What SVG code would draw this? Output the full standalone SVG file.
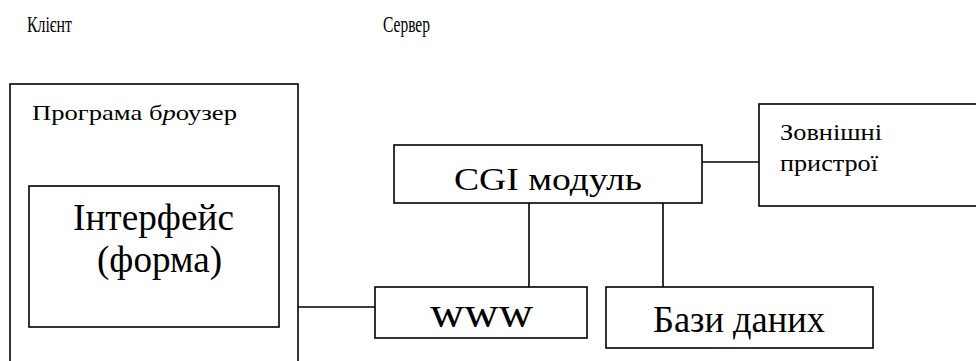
<svg xmlns="http://www.w3.org/2000/svg" width="976" height="361" viewBox="0 0 976 361">
  <style>
    .box { fill: #fff; stroke: #000; stroke-width: 1.6; }
    .link { stroke: #000; stroke-width: 1.6; fill: none; }
    text { font-family: "Liberation Serif", "Times New Roman", serif; fill: #000; }
  </style>
  <rect width="976" height="361" fill="#fff"/>

  <!-- side headings -->
  <text x="27" y="32" font-size="24" textLength="45" lengthAdjust="spacingAndGlyphs">Клієнт</text>
  <text x="383" y="32" font-size="24" textLength="47" lengthAdjust="spacingAndGlyphs">Сервер</text>

  <!-- connectors -->
  <g id="connectors">
    <line class="link" x1="298" y1="307" x2="375" y2="307"/>
    <line class="link" x1="529" y1="203" x2="529" y2="287"/>
    <line class="link" x1="663" y1="203" x2="663" y2="287"/>
    <line class="link" x1="702" y1="162" x2="759" y2="162"/>
  </g>

  <g id="browser">
    <rect class="box" x="10" y="84" width="288" height="290"/>
    <text x="32" y="120" font-size="21" textLength="205" lengthAdjust="spacingAndGlyphs">Програма б<tspan font-style="italic">р</tspan>оузер</text>
  </g>

  <g id="interface">
    <rect class="box" x="29" y="186" width="250" height="141"/>
    <text x="73" y="230" font-size="37" textLength="161" lengthAdjust="spacingAndGlyphs">Інтерфейс</text>
    <text x="97" y="272" font-size="37" textLength="125" lengthAdjust="spacingAndGlyphs">(форма)</text>
  </g>

  <g id="cgi">
    <rect class="box" x="394" y="145" width="308" height="58"/>
    <text x="454" y="190" font-size="31" textLength="188" lengthAdjust="spacingAndGlyphs">CGI модуль</text>
  </g>

  <g id="www">
    <rect class="box" x="375" y="287" width="212" height="51"/>
    <text x="430" y="327" font-size="44" textLength="103" lengthAdjust="spacingAndGlyphs">www</text>
  </g>

  <g id="db">
    <rect class="box" x="606" y="287" width="267" height="61"/>
    <text x="653" y="332" font-size="37" textLength="172" lengthAdjust="spacingAndGlyphs">Бази даних</text>
  </g>

  <g id="devices">
    <rect class="box" x="759" y="104" width="240" height="102"/>
    <text x="780" y="140" font-size="23" textLength="102" lengthAdjust="spacingAndGlyphs">Зовнішні</text>
    <text x="780" y="171" font-size="23" textLength="98" lengthAdjust="spacingAndGlyphs">пристрої</text>
  </g>
</svg>
